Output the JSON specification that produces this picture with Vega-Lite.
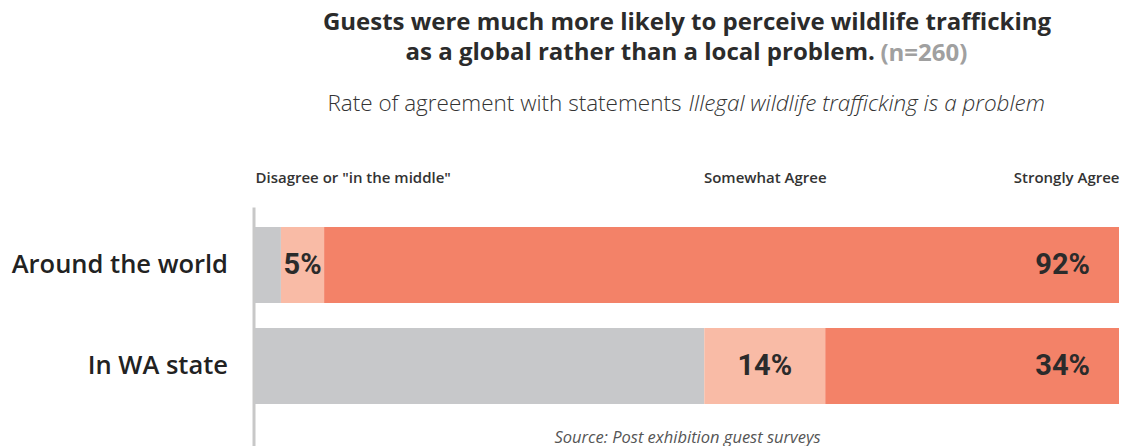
{
  "$schema": "https://vega.github.io/schema/vega-lite/v6.json",
  "width": 864,
  "height": 239,
  "autosize": "none",
  "padding": {"left": 255, "top": 207, "right": 10, "bottom": 0},
  "background": "#ffffff",
  "title": {
    "text": ["Guests were much more likely to perceive wildlife trafficking", "as a global rather than a local problem.\u00a0\u00a0\u00a0\u00a0\u00a0\u00a0\u00a0\u00a0\u00a0\u00a0\u00a0\u00a0\u00a0\u00a0\u00a0\u200b"],
    "subtitle": "\u200b\u00a0\u00a0\u00a0\u00a0\u00a0\u00a0\u00a0\u00a0\u00a0\u00a0\u00a0\u00a0\u00a0\u00a0\u00a0\u00a0\u00a0\u00a0\u00a0\u00a0\u00a0\u00a0\u00a0\u00a0\u00a0\u00a0\u00a0\u00a0\u00a0\u00a0\u00a0\u00a0\u00a0\u00a0\u00a0\u00a0\u00a0\u00a0\u00a0\u00a0\u00a0\u00a0\u00a0\u00a0\u00a0\u00a0\u00a0\u00a0\u00a0\u00a0\u00a0\u00a0\u00a0\u00a0\u00a0\u00a0\u00a0\u00a0\u00a0\u00a0\u00a0\u00a0\u00a0\u00a0\u00a0\u00a0\u00a0\u00a0\u00a0\u00a0\u00a0\u00a0\u00a0\u00a0\u00a0\u00a0(n=260)",
    "anchor": "middle",
    "frame": "group",
    "font": "Open Sans",
    "fontSize": 24,
    "fontWeight": "bold",
    "color": "#2b2b2b",
    "lineHeight": 30,
    "offset": 26,
    "subtitleFont": "Open Sans",
    "subtitleFontSize": 24,
    "subtitleFontWeight": "bold",
    "subtitleColor": "#a0a0a0",
    "subtitleLineHeight": 30,
    "subtitlePadding": -23
  },
  "data": {
    "values": [
      {"category": "Around the world", "response": "Disagree or \"in the middle\"", "rank": 1, "value": 0.03},
      {"category": "Around the world", "response": "Somewhat Agree", "rank": 2, "value": 0.05},
      {"category": "Around the world", "response": "Strongly Agree", "rank": 3, "value": 0.92},
      {"category": "In WA state", "response": "Disagree or \"in the middle\"", "rank": 1, "value": 0.52},
      {"category": "In WA state", "response": "Somewhat Agree", "rank": 2, "value": 0.14},
      {"category": "In WA state", "response": "Strongly Agree", "rank": 3, "value": 0.34}
    ]
  },
  "encoding": {
    "y": {
      "field": "category",
      "type": "nominal",
      "sort": ["Around the world", "In WA state"],
      "scale": {"paddingInner": 0.2475, "paddingOuter": 0.307, "align": 0.3226},
      "axis": {
        "title": null,
        "orient": "left",
        "domain": true,
        "domainColor": "#c8c8c8",
        "domainWidth": 3,
        "offset": 1.5,
        "ticks": false,
        "grid": false,
        "labelFont": "Open Sans",
        "labelFontWeight": 600,
        "labelFontSize": 25.5,
        "labelColor": "#222222",
        "labelPadding": 26,
        "labelLimit": 400
      }
    }
  },
  "layer": [
    {
      "mark": {"type": "bar"},
      "encoding": {
        "x": {
          "field": "value",
          "type": "quantitative",
          "stack": "zero",
          "scale": {"domain": [0, 1], "nice": false},
          "axis": {
            "orient": "top",
            "values": [0, 0.59, 1],
            "labelExpr": "datum.value == 0 ? 'Disagree or \"in the middle\"' : (datum.value == 1 ? 'Strongly Agree' : 'Somewhat Agree')",
            "labelAlign": {"expr": "datum.value == 0 ? 'left' : (datum.value == 1 ? 'right' : 'center')"},
            "labelFlush": false,
            "labelOverlap": false,
            "labelBound": false,
            "labelLimit": 400,
            "labelFont": "Open Sans",
            "labelFontWeight": 600,
            "labelFontSize": 15,
            "labelColor": "#333333",
            "labelPadding": 22,
            "ticks": false,
            "domain": false,
            "grid": false,
            "title": "Rate of agreement with statements",
            "titleFont": "Open Sans",
            "titleFontWeight": 300,
            "titleFontSize": 22.5,
            "titleColor": "#333333",
            "titleBaseline": "alphabetic",
            "titleAlign": "right",
            "titleAnchor": "start",
            "titleX": 426,
            "titleY": -97
          }
        },
        "color": {
          "field": "response",
          "type": "nominal",
          "scale": {
            "domain": ["Disagree or \"in the middle\"", "Somewhat Agree", "Strongly Agree"],
            "range": ["#c7c8ca", "#f9bba6", "#f38268"]
          },
          "legend": null
        },
        "order": {"field": "rank", "type": "quantitative"}
      }
    },
    {
      "transform": [
        {"stack": "value", "groupby": ["category"], "sort": [{"field": "rank", "order": "ascending"}], "as": ["x0", "x1"]},
        {"filter": "datum.response == 'Somewhat Agree'"},
        {"fold": ["x0", "x1"], "as": ["edge", "pos"]},
        {"aggregate": [{"op": "mean", "field": "pos", "as": "mid"}, {"op": "max", "field": "value", "as": "share"}], "groupby": ["category"]}
      ],
      "mark": {"type": "text", "align": "center", "baseline": "middle", "font": "Roboto", "fontWeight": "bold", "fontSize": 29, "color": "#2b2b2b"},
      "encoding": {
        "x": {
          "field": "mid",
          "type": "quantitative",
          "axis": {
            "orient": "top",
            "labels": false,
            "ticks": false,
            "domain": false,
            "grid": false,
            "title": "Illegal wildlife trafficking is a problem",
            "titleFont": "Open Sans",
            "titleFontStyle": "italic",
            "titleFontWeight": 300,
            "titleFontSize": 22.5,
            "titleColor": "#333333",
            "titleBaseline": "alphabetic",
            "titleAlign": "left",
            "titleAnchor": "start",
            "titleX": 433,
            "titleY": -97
          }
        },
        "text": {"field": "share", "type": "quantitative", "format": ".0%"}
      }
    },
    {
      "transform": [
        {"stack": "value", "groupby": ["category"], "sort": [{"field": "rank", "order": "ascending"}], "as": ["x0", "x1"]},
        {"filter": "datum.response == 'Strongly Agree'"}
      ],
      "mark": {"type": "text", "align": "right", "baseline": "middle", "dx": -29, "font": "Roboto", "fontWeight": "bold", "fontSize": 29, "color": "#2b2b2b"},
      "encoding": {
        "x": {
          "field": "x1",
          "type": "quantitative",
          "axis": {
            "orient": "bottom",
            "labels": false,
            "ticks": false,
            "domain": false,
            "grid": false,
            "title": "Source: Post exhibition guest surveys",
            "titleFont": "Open Sans",
            "titleFontStyle": "italic",
            "titleFontWeight": "normal",
            "titleFontSize": 16.5,
            "titleColor": "#555555",
            "titleBaseline": "alphabetic",
            "titleY": -4
          }
        },
        "text": {"field": "value", "type": "quantitative", "format": ".0%"}
      }
    }
  ],
  "resolve": {"axis": {"x": "independent"}},
  "config": {
    "view": {"stroke": null}
  }
}
